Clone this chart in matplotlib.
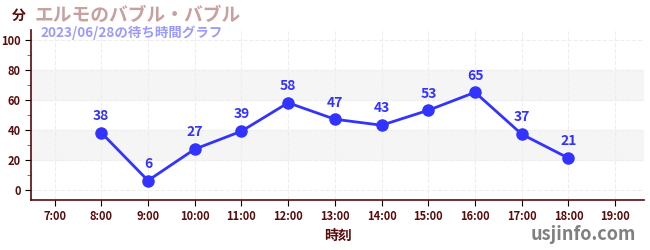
import matplotlib
matplotlib.use('Agg')
import matplotlib.pyplot as plt
from matplotlib.ticker import MultipleLocator

plt.rcParams['font.family'] = ['Noto Sans CJK JP', 'DejaVu Sans']

#-- data
hours = [8, 9, 10, 11, 12, 13, 14, 15, 16, 17, 18]
waits = [38, 6, 27, 39, 58, 47, 43, 53, 65, 37, 21]
xticks = list(range(7, 20))
xlabels = ['%d:00' % h for h in xticks]

title = 'エルモのバブル・バブル'
subtitle = '2023/06/28の待ち時間グラフ'

dark = '#5a0a0a'
blue = '#3333ff'

fig = plt.figure(figsize=(6.5, 2.5), dpi=100)
ax = fig.add_axes([0.048, 0.2, 0.943, 0.682])

#-- background bands
for lo, hi in [(20, 40), (60, 80)]:
    ax.axhspan(lo, hi, color='#f5f5f5', zorder=0)

ax.plot(hours, waits, '-o', color=blue, lw=2, ms=8, zorder=3)
for h, w in zip(hours, waits):
    ax.annotate(str(w), (h, w), xytext=(0, 7), textcoords='offset points',
                ha='center', va='bottom', color=blue, fontsize=10, fontweight='bold')

ax.set_xlim(6.5, 19.62)
ax.set_ylim(-7, 107)
ax.set_xticks(xticks)
ax.set_xticklabels(xlabels)
ax.set_yticks(range(0, 101, 20))
ax.yaxis.set_minor_locator(MultipleLocator(10))
ax.grid(True, which='major', color='#eeeeee', ls='--', lw=0.8, zorder=1)

for s in ['top', 'right']:
    ax.spines[s].set_visible(False)
for s in ['left', 'bottom']:
    ax.spines[s].set_color(dark)
    ax.spines[s].set_linewidth(1.2)

ax.tick_params(axis='both', which='major', colors='black', labelcolor=dark,
               labelsize=8, length=4)
ax.tick_params(axis='y', which='minor', colors='#dd2222', length=3)
for lab in ax.get_xticklabels() + ax.get_yticklabels():
    lab.set_fontweight('bold')

ax.set_xlabel('時刻', color=dark, fontsize=10, fontweight='bold', labelpad=4)

fig.text(0.018, 0.935, '分', color=dark, fontsize=10, fontweight='bold', va='center')
fig.text(0.054, 0.94, title, color='#c9a0a0', fontsize=13.5, fontweight='bold', va='center')
fig.text(0.062, 0.87, subtitle, color='#9a9aff', fontsize=9.7, fontweight='bold', va='center')
fig.text(0.978, 0.06, 'usjinfo.com', color='#808080', fontsize=13, fontweight='bold',
         ha='right', va='center')

fig.savefig('out.png')
